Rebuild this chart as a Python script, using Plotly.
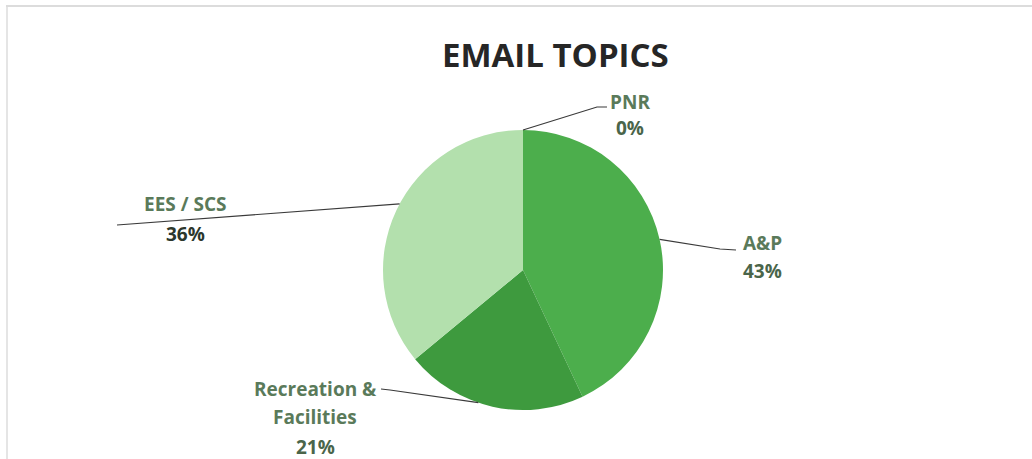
import math
import plotly.graph_objects as go

# ---- data ----
categories = ["A&P", "Recreation &<br>Facilities", "EES / SCS", "PNR"]
values = [43, 21, 36, 0]
colors = ["#4cae4c", "#3e9a3e", "#b3e0ad", "#4cae4c"]
title_text = "EMAIL TOPICS"

W, H = 1032, 459
CX, CY, R = 523, 270, 140  # pie centre / radius in pixels (layout)

def px(x):
    return x / W

def py(y):
    return 1 - y / H

fig = go.Figure(go.Pie(
    labels=categories, values=values, sort=False, direction="clockwise",
    rotation=0, textinfo="none", hoverinfo="label+percent",
    marker=dict(colors=colors, line=dict(width=0)),
    domain=dict(x=[px(CX - R), px(CX + R)], y=[py(CY + R), py(CY - R)]),
    showlegend=False,
))

total = sum(values)
pcts = [round(100 * v / total) for v in values]

# mid-angles of slices (deg clockwise from 12 o'clock), from data
mids = []
acc = 0
for v in values:
    mids.append(360 * (acc + v / 2) / total)
    acc += v

def edge(angle_deg):
    a = math.radians(angle_deg)
    return CX + R * math.sin(a), CY - R * math.cos(a)

# label layout: centre x, line y positions, leader path via points, angle offset
label_layout = [
    dict(x=762, ys=[243], py_=271, path=[(720, 249), (736, 250)], off=0),
    dict(x=315, ys=[389, 417], py_=447, path=[(390, 390), (381, 389)], off=6),
    dict(x=185, ys=[204], py_=234, path=[(117, 225)], off=3),
    dict(x=630, ys=[102], py_=128, path=[(597, 107), (607, 107)], off=0),
]

name_color = "#5a7a5a"
pct_colors = ["#4a654a", "#4a654a", "#2c372c", "#4a654a"]
font_fam = "Open Sans"
FS = 19

annotations = [dict(
    text="<b>" + title_text + "</b>", x=px(555), y=py(54), xref="paper", yref="paper",
    showarrow=False, font=dict(family=font_fam, size=33, color="#262626"),
    xanchor="center", yanchor="middle")]
shapes = []

for i, (cat, lay) in enumerate(zip(categories, label_layout)):
    names = cat.split("<br>")
    for nm, yy in zip(names, lay["ys"]):
        annotations.append(dict(text="<b>" + nm + "</b>", x=px(lay["x"]), y=py(yy),
                                xref="paper", yref="paper", showarrow=False,
                                font=dict(family=font_fam, size=FS, color=name_color),
                                xanchor="center", yanchor="middle"))
    annotations.append(dict(text="<b>%d%%</b>" % pcts[i], x=px(lay["x"]), y=py(lay["py_"]),
                            xref="paper", yref="paper", showarrow=False,
                            font=dict(family=font_fam, size=FS, color=pct_colors[i]),
                            xanchor="center", yanchor="middle"))
    sx, sy = edge(mids[i] + lay["off"])
    pts = [(sx, sy)] + lay["path"]
    d = "M " + " L ".join("%f,%f" % (px(x), py(y)) for x, y in pts)
    shapes.append(dict(type="path", path=d, xref="paper", yref="paper",
                       line=dict(color="#3a3a3a", width=1.2)))

# chart-area frame (top and left edges visible)
shapes.append(dict(type="line", xref="paper", yref="paper", x0=px(6), x1=px(1032),
                   y0=py(6), y1=py(6), line=dict(color="#d0d0d0", width=1.5)))
shapes.append(dict(type="line", xref="paper", yref="paper", x0=px(7), x1=px(7),
                   y0=py(6), y1=py(459), line=dict(color="#dcdcdc", width=1.5)))

fig.update_layout(
    width=W, height=H, margin=dict(l=0, r=0, t=0, b=0),
    paper_bgcolor="white", plot_bgcolor="white",
    annotations=annotations, shapes=shapes,
)

fig.write_html("out.html", config={"displayModeBar": False},
               post_script="document.body.style.margin='0';document.body.style.overflow='hidden';")
